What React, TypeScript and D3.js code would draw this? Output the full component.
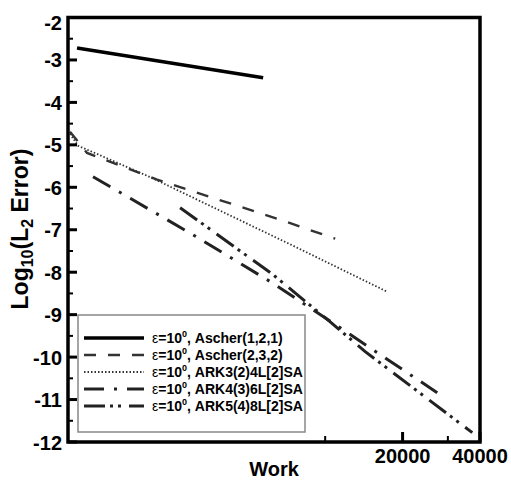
import React from 'react';
import * as d3 from 'd3';

// ---------- data ----------
const xDomain = [1000, 40000];
const yDomain = [-12, -2];
const yMajorTicks = [-2, -3, -4, -5, -6, -7, -8, -9, -10, -11, -12];
const yMinorTicks = [-2.5, -3.5, -4.5, -5.5, -6.5, -7.5, -8.5, -9.5, -10.5, -11.5];
const xLabeledTicks = [20000, 40000];
const xTickLabels = ['20000', '40000'];
const xMinorTicks = [10000, 30000];

const ascher121Work = [1084, 5740];
const ascher121Err = [-2.72, -3.42];
const ascher232Work = [1018, 1186, 2220, 6505, 10940];
const ascher232Err = [-4.69, -5.19, -5.82, -6.74, -7.21];
const ark3Work = [1018, 1094, 2123, 7643, 17430];
const ark3Err = [-4.74, -5.02, -5.78, -7.4, -8.46];
const ark4Work = [1251, 3065, 6109, 11440, 27280];
const ark4Err = [-5.75, -7.12, -8.22, -9.31, -10.84];
const ark5Work = [2728, 6277, 10460, 14310, 37330];
const ark5Err = [-6.48, -8.06, -9.17, -9.87, -11.78];

const legendLabels = ['Ascher(1,2,1)', 'Ascher(2,3,2)', 'ARK3(2)4L[2]SA', 'ARK4(3)6L[2]SA', 'ARK5(4)8L[2]SA'];

// ---------- styles ----------
const seriesStyles = [
  { width: 3.5, dash: undefined as string | undefined, color: '#000' },
  { width: 2.4, dash: '12 12', color: '#333' },
  { width: 1.8, dash: '1.5 2', color: '#333' },
  { width: 3, dash: '20 10 3 10', color: '#222' },
  { width: 3, dash: '21 5 3 5 3 8', color: '#222' },
];

const FONT = "'Liberation Sans', Arial, Helvetica, sans-serif";

export default function App() {
  const W = 511, H = 480;
  const L = 68, R = 480, T = 17.5, B = 442;
  const x = d3.scaleLog().domain(xDomain).range([L, R]);
  const y = d3.scaleLinear().domain(yDomain).range([B, T]);

  const series = [
    [ascher121Work, ascher121Err],
    [ascher232Work, ascher232Err],
    [ark3Work, ark3Err],
    [ark4Work, ark4Err],
    [ark5Work, ark5Err],
  ].map(([ws, es]) => ws.map((w, i) => [w, es[i]] as [number, number]));

  const line = d3.line<[number, number]>().x(d => x(d[0])).y(d => y(d[1]));

  const legX = 78, legY = 315, legW = 227, legH = 117;
  const rowY0 = 338, rowStep = 17;

  return (
    <svg width={W} height={H} style={{ position: 'absolute', left: 0, top: 0, background: '#fff' }}
      fontFamily={FONT}>
      <rect x={0} y={0} width={W} height={H} fill="#fff" />
      <defs>
        <clipPath id="plotclip">
          <rect x={L} y={T} width={R - L} height={B - T} />
        </clipPath>
      </defs>
      <g clipPath="url(#plotclip)">
        {series.map((s, i) => (
          <path key={i} d={line(s) || ''} fill="none" stroke={seriesStyles[i].color}
            strokeWidth={seriesStyles[i].width} strokeDasharray={seriesStyles[i].dash} />
        ))}
      </g>

      {/* y ticks */}
      {yMajorTicks.map(v => (
        <line key={'ym' + v} x1={L} x2={L + 9} y1={y(v)} y2={y(v)} stroke="#000" strokeWidth={3} />
      ))}
      {yMinorTicks.map(v => (
        <line key={'yn' + v} x1={L} x2={L + 5} y1={y(v)} y2={y(v)} stroke="#000" strokeWidth={2} />
      ))}
      {yMajorTicks.map(v => (
        <text key={'yl' + v} x={62} y={Math.max(y(v), 22) + 7.5} textAnchor="end" fontSize={20}
          fontWeight={700}>{String(v)}</text>
      ))}

      {/* x ticks */}
      {xLabeledTicks.map(v => (
        <line key={'xm' + v} x1={x(v)} x2={x(v)} y1={B} y2={B - 10} stroke="#000" strokeWidth={3} />
      ))}
      {xMinorTicks.map(v => (
        <line key={'xn' + v} x1={x(v)} x2={x(v)} y1={B} y2={B - 6} stroke="#000" strokeWidth={2} />
      ))}
      {xLabeledTicks.map((v, i) => (
        <text key={'xl' + v} x={x(v)} y={463} textAnchor="middle" fontSize={20} fontWeight={700}>
          {xTickLabels[i]}</text>
      ))}

      {/* frame */}
      <rect x={L} y={T} width={R - L} height={B - T} fill="none" stroke="#000" strokeWidth={3.5} />

      {/* axis titles */}
      <text x={(L + R) / 2} y={476} textAnchor="middle" fontSize={20} fontWeight={700}>Work</text>
      <text transform={`translate(28, 229) rotate(-90)`} textAnchor="middle" fontSize={23} fontWeight={700}>
        Log<tspan fontSize={16} dy={5}>10</tspan><tspan dy={-5}>(L</tspan><tspan fontSize={16} dy={5}>2</tspan>
        <tspan dy={-5}> Error)</tspan>
      </text>

      {/* legend */}
      <rect x={legX} y={legY} width={legW} height={legH} fill="#fff" stroke="#888" strokeWidth={1.5} />
      {legendLabels.map((lab, i) => {
        const cy = rowY0 + i * rowStep;
        return (
          <g key={'lg' + i}>
            <line x1={84} x2={144} y1={cy} y2={cy} stroke={seriesStyles[i].color}
              strokeWidth={seriesStyles[i].width} strokeDasharray={seriesStyles[i].dash} />
            <text x={152} y={cy + 5} fontSize={14} fontWeight={700}>
              <tspan fontWeight={400}>ε</tspan>=10<tspan fontSize={9} dy={-6}>0</tspan>
              <tspan dy={6}>, {lab}</tspan>
            </text>
          </g>
        );
      })}
    </svg>
  );
}
